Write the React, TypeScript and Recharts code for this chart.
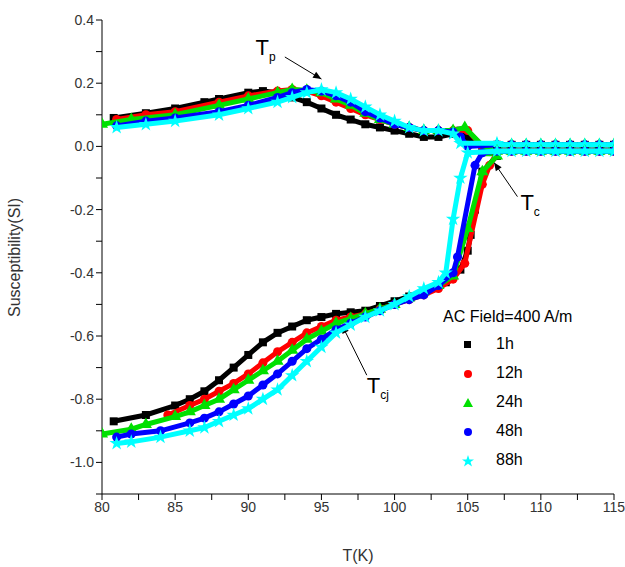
import React from 'react';
import { ComposedChart, Scatter, XAxis, YAxis, ReferenceLine, ReferenceDot } from 'recharts';

type P = [number, number];
const plateau = [107, 108, 109, 110, 111, 112, 113, 114, 115];

const up1h: P[] = [[80.8,0.09],[83,0.105],[85,0.12],[87,0.14],[88,0.15],[90,0.17],[91,0.175],[92,0.17],[93,0.155],[94,0.14],[95,0.12],[96,0.10],[97,0.085],[98,0.07],[99,0.06],[100,0.05],[101,0.04],[102,0.03],[103,0.03],[104,0.04],[104.5,0.05],[105,0.03],[106,0.0],[107,-0.005]];
const up12h: P[] = [[81,0.085],[83,0.1],[85,0.11],[88,0.14],[90,0.16],[92,0.175],[93,0.18],[94,0.175],[95,0.16],[96,0.14],[97,0.12],[98,0.1],[99,0.085],[100,0.07],[101,0.06],[102,0.05],[103,0.05],[104,0.05],[105,0.05],[106,0.0],[107,0.0]];
const up24h: P[] = [[80,0.07],[82,0.085],[85,0.10],[88,0.13],[90,0.15],[92,0.17],[93,0.18],[94,0.178],[95,0.17],[96,0.15],[97,0.13],[98,0.105],[99,0.085],[100,0.07],[101,0.06],[102,0.05],[103,0.05],[104,0.05],[104.8,0.06],[106.5,-0.02],[107,0.0]];
const up48h: P[] = [[81,0.065],[83,0.08],[85,0.09],[88,0.11],[90,0.13],[92,0.155],[93,0.17],[94,0.18],[95,0.175],[96,0.16],[97,0.14],[98,0.11],[99,0.09],[100,0.07],[101,0.06],[102,0.05],[103,0.05],[104,0.045],[104.5,0.03],[105,0.0],[107,0.005]];
const up88h: P[] = [[81,0.06],[83,0.07],[85,0.08],[88,0.10],[90,0.12],[92,0.14],[93,0.155],[94,0.17],[95,0.18],[96,0.17],[97,0.15],[98,0.125],[99,0.10],[100,0.08],[101,0.06],[102,0.05],[103,0.05],[104,0.04],[104.5,0.01],[107,0.01]];

const lo1h: P[] = [[80.8,-0.87],[83,-0.85],[85,-0.82],[86,-0.80],[87,-0.775],[88,-0.74],[89,-0.70],[90,-0.66],[91,-0.62],[92,-0.59],[93,-0.57],[94,-0.55],[95,-0.54],[96,-0.53],[97,-0.525],[98,-0.52],[99,-0.505],[100,-0.49],[101,-0.475],[102,-0.46],[103.5,-0.43],[104.5,-0.39],[105,-0.33],[105.2,-0.28],[105.5,-0.20],[106,-0.08],[107,-0.03]];
const lo12h: P[] = [[84.5,-0.85],[86,-0.82],[87,-0.80],[88,-0.775],[89,-0.75],[90,-0.72],[91,-0.685],[92,-0.65],[93,-0.62],[94,-0.59],[95,-0.57],[96,-0.55],[97,-0.54],[98,-0.53],[99,-0.515],[100,-0.50],[101,-0.485],[102,-0.47],[103,-0.45],[104,-0.42],[104.8,-0.37],[106,-0.12],[106.5,-0.06],[107,-0.02]];
const lo24h: P[] = [[80,-0.91],[82,-0.895],[83,-0.88],[85,-0.855],[86,-0.84],[87,-0.82],[88,-0.80],[89,-0.77],[90,-0.74],[91,-0.71],[92,-0.68],[93,-0.645],[94,-0.61],[95,-0.585],[96,-0.56],[97,-0.545],[98,-0.53],[99,-0.515],[100,-0.50],[101,-0.48],[102,-0.46],[103,-0.44],[104,-0.41],[105,-0.26],[106,-0.08],[107,-0.03]];
const lo48h: P[] = [[81,-0.92],[82,-0.91],[84,-0.90],[86,-0.875],[87,-0.86],[88,-0.84],[89,-0.815],[90,-0.79],[91,-0.755],[92,-0.72],[93,-0.68],[94,-0.64],[95,-0.61],[96,-0.58],[97,-0.56],[98,-0.54],[99,-0.52],[100,-0.50],[101,-0.485],[102,-0.47],[103,-0.44],[104,-0.40],[104.3,-0.35],[105.5,-0.06],[106,-0.02]];
const lo88h: P[] = [[81,-0.94],[82,-0.935],[84,-0.92],[86,-0.90],[87,-0.89],[88,-0.87],[89,-0.85],[90,-0.83],[91,-0.80],[92,-0.77],[93,-0.725],[94,-0.68],[95,-0.635],[96,-0.59],[97,-0.565],[98,-0.54],[99,-0.52],[100,-0.50],[101,-0.475],[102,-0.45],[103,-0.43],[103.5,-0.40],[104,-0.23],[104.5,-0.10],[105,-0.02]];

const plateauUp: number[] = [0.005, 0.005, 0.005, 0.005, 0.005, 0.005, 0.005, 0.005, 0.005];
const plateauLo: number[] = [-0.015, -0.015, -0.015, -0.015, -0.015, -0.015, -0.015, -0.015, -0.015];

const xTicks = [80, 82.5, 85, 87.5, 90, 92.5, 95, 97.5, 100, 102.5, 105, 107.5, 110, 112.5, 115];
const yTicks = [0.4, 0.3, 0.2, 0.1, 0, -0.1, -0.2, -0.3, -0.4, -0.5, -0.6, -0.7, -0.8, -0.9, -1.0, -1.1];
const yLabels = ['0.4', '0.2', '0.0', '-0.2', '-0.4', '-0.6', '-0.8', '-1.0'];

const series = [
  { name: '1h', color: '#000000', shape: 'square', up: up1h, lo: lo1h },
  { name: '12h', color: '#ff0000', shape: 'circle', up: up12h, lo: lo12h },
  { name: '24h', color: '#00e000', shape: 'triangle', up: up24h, lo: lo24h },
  { name: '48h', color: '#0000ff', shape: 'circle', up: up48h, lo: lo48h },
  { name: '88h', color: '#00ffff', shape: 'star', up: up88h, lo: lo88h },
];

const toObj = (a: P[]) => a.map(([x, y]) => ({ x, y }));
const plat = (vals: number[]) => plateau.map((x, i) => ({ x, y: vals[i] }));

const Arrow = (props: any) => {
  const { x1, y1, x2, y2 } = props;
  if (x1 == null) return null;
  const a = Math.atan2(y2 - y1, x2 - x1);
  const L = 9;
  const p1 = [x2 - L * Math.cos(a - 0.4), y2 - L * Math.sin(a - 0.4)];
  const p2 = [x2 - L * Math.cos(a + 0.4), y2 - L * Math.sin(a + 0.4)];
  return (
    <g>
      <line x1={x1} y1={y1} x2={x2} y2={y2} stroke="#000" strokeWidth={1} />
      <polygon points={`${x2},${y2} ${p1[0]},${p1[1]} ${p2[0]},${p2[1]}`} fill="#000" />
    </g>
  );
};

const Lbl = (main: string, sub: string) => (props: any) => {
  const { cx, cy } = props;
  return (
    <text x={cx} y={cy} fontSize={22} fontFamily="Liberation Sans, Arial" fill="#000">
      {main}
      <tspan fontSize={12} dy={6}>{sub}</tspan>
    </text>
  );
};

const font = 'Liberation Sans, Arial, sans-serif';

export default function App() {
  return (
    <div style={{ position: 'absolute', left: 0, top: 0, width: 625, height: 567, background: '#fff', fontFamily: font }}>
      <ComposedChart width={625} height={567} margin={{ top: 20, right: 11, bottom: 0, left: 0 }}>
        <XAxis type="number" dataKey="x" domain={[80, 115]} ticks={xTicks} interval={0}
          tickFormatter={(v: number) => (v % 5 === 0 ? String(v) : '')}
          tick={{ fontSize: 14, fill: '#333', fontFamily: font }} tickSize={6} stroke="#000" allowDataOverflow
          label={{ value: 'T(K)', position: 'insideBottom', offset: 6, fontSize: 16, fill: '#333', fontFamily: font }} height={73} />
        <XAxis xAxisId="top" orientation="top" type="number" domain={[80, 115]} tick={false} tickLine={false} stroke="#000" height={0} />
        <YAxis type="number" dataKey="y" domain={[-1.1, 0.4]} ticks={yTicks} interval={0}
          tickFormatter={(v: number) => { const s = v.toFixed(1); return yLabels.includes(s) ? s : ''; }}
          tick={{ fontSize: 14, fill: '#333', fontFamily: font }} tickSize={6} stroke="#000" width={102} allowDataOverflow
          label={{ value: 'Susceptibility(SI)', angle: -90, position: 'insideLeft', offset: 14, dy: 60, fontSize: 16, fill: '#333', fontFamily: font }} />
        <YAxis yAxisId="right" orientation="right" type="number" domain={[-1.1, 0.4]} tick={false} tickLine={false} stroke="#000" width={0} />
        {series.map((s) => (
          <Scatter key={s.name + 'u'} data={[...toObj(s.up), ...plat(plateauUp)]} fill={s.color} shape={s.shape as any}
            line={{ stroke: s.color, strokeWidth: 5 }} legendType="none" isAnimationActive={false} />
        ))}
        {series.map((s) => (
          <Scatter key={s.name + 'l'} data={[...toObj(s.lo), ...plat(plateauLo)]} fill={s.color} shape={s.shape as any}
            line={{ stroke: s.color, strokeWidth: 5 }} legendType="none" isAnimationActive={false} />
        ))}
        <ReferenceLine segment={[{ x: 92.5, y: 0.283 }, { x: 95.0, y: 0.213 }]} shape={Arrow} />
        <ReferenceLine segment={[{ x: 108.4, y: -0.159 }, { x: 106.8, y: -0.051 }]} shape={Arrow} />
        <ReferenceLine segment={[{ x: 98.1, y: -0.724 }, { x: 96.4, y: -0.565 }]} shape={Arrow} />
        <ReferenceDot x={90.5} y={0.29} r={0} shape={Lbl('T', 'p')} />
        <ReferenceDot x={108.6} y={-0.2} r={0} shape={Lbl('T', 'c')} />
        <ReferenceDot x={98.1} y={-0.78} r={0} shape={Lbl('T', 'cj')} />
      </ComposedChart>
      <div style={{ position: 'absolute', left: 443, top: 308, fontSize: 16, color: '#000', fontFamily: font }}>AC Field=400 A/m</div>
      {series.map((s, i) => (
        <div key={s.name} style={{ position: 'absolute', left: 458, top: 335 + i * 29, width: 120, height: 20, fontSize: 16, fontFamily: font }}>
          <svg width={20} height={20} style={{ position: 'absolute', left: 0, top: 0 }}>
            {s.shape === 'square' && <rect x={6} y={6} width={7} height={7} fill={s.color} />}
            {s.shape === 'circle' && <circle cx={10} cy={10} r={4} fill={s.color} />}
            {s.shape === 'triangle' && <polygon points="10,5 15,14 5,14" fill={s.color} />}
            {s.shape === 'star' && <polygon points="10,4 11.5,8.5 16,8.5 12.5,11 14,15.5 10,12.8 6,15.5 7.5,11 4,8.5 8.5,8.5" fill={s.color} />}
          </svg>
          <span style={{ position: 'absolute', left: 38, top: 0 }}>{s.name}</span>
        </div>
      ))}
    </div>
  );
}
